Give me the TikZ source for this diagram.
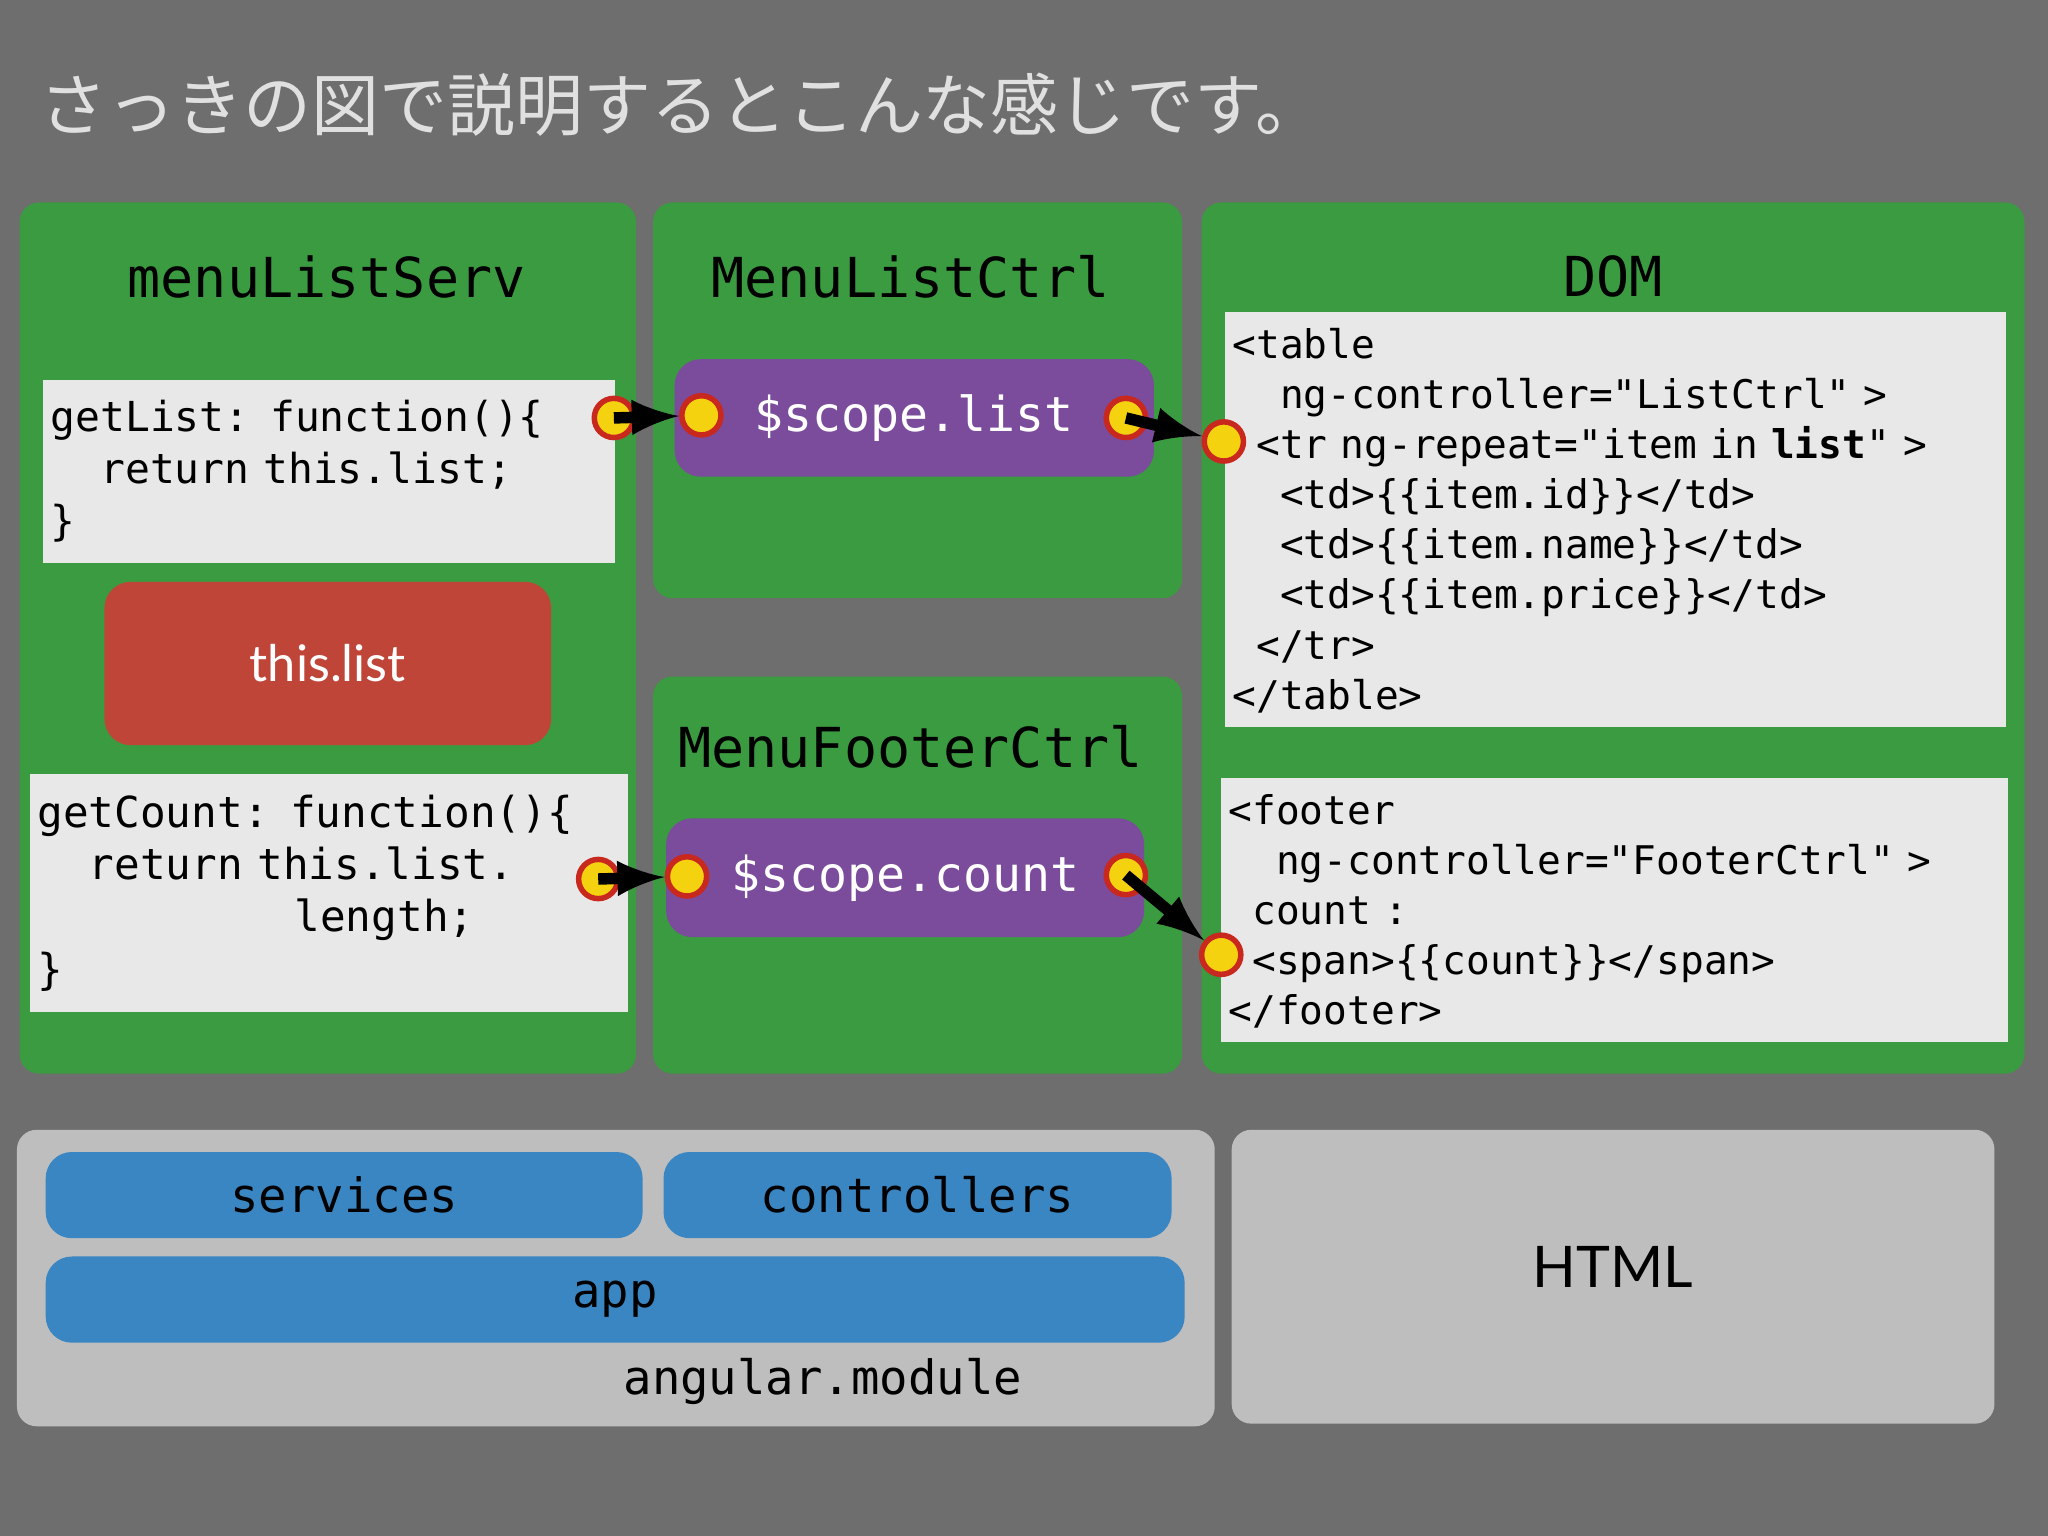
\documentclass[tikz,border=0pt]{standalone}
\usepackage{fontspec}
\setmonofont{DejaVu Sans Mono}[WordSpace={1,0,0}]
\setsansfont{Lato}
\newfontfamily\cjk{Noto Sans CJK JP}
\definecolor{bggray}{HTML}{6E6E6E}
\definecolor{panelgreen}{HTML}{3B9B40}
\definecolor{codebg}{HTML}{E8E8E8}
\definecolor{boxred}{HTML}{BF4538}
\definecolor{boxpurple}{HTML}{7B4B9C}
\definecolor{boxblue}{HTML}{3A86C2}
\definecolor{modgray}{HTML}{BEBEBE}
\definecolor{dotyellow}{HTML}{F5D210}
\definecolor{dotred}{HTML}{C8281E}
\tikzset{
  panel/.style={fill=panelgreen, rounded corners=0.15cm},
  code/.style={fill=codebg, font=\ttfamily\fontsize{8.6}{10.9}\selectfont, align=left, anchor=north west, inner xsep=0.06cm, inner ysep=0.05cm},
  title/.style={font=\ttfamily\fontsize{12}{14}\selectfont, text=black},
  pill/.style={rounded corners=0.2cm, font=\ttfamily\fontsize{10.5}{13}\selectfont, text=white},
  mod/.style={fill=boxblue, rounded corners=0.2cm, font=\ttfamily\fontsize{10.3}{12}\selectfont},
  dot/.style={circle, fill=dotyellow, draw=dotred, line width=1.2pt, minimum size=0.3cm, inner sep=0pt},
  link/.style={-latex, line width=2.5pt, black}
}
\begin{document}
\begin{tikzpicture}[x=1cm, y=-1cm]
  % background
  \fill[bggray] (0,0) rectangle (15.68,11.76);
  \node[anchor=west, text=white!88!black, font=\cjk\fontsize{14.8}{16}\selectfont] (head) at (0.18,0.8) {さっきの図で説明するとこんな感じです。};

  % panels
  \fill[panel] (0.15,1.55) rectangle (4.87,8.22);
  \fill[panel] (5.00,1.55) rectangle (9.05,4.58);
  \fill[panel] (5.00,5.18) rectangle (9.05,8.22);
  \fill[panel] (9.20,1.55) rectangle (15.50,8.22);

  \node[title] (serv) at (2.50,2.12) {menuListServ};
  \node[title] (lctrl) at (6.97,2.12) {MenuListCtrl};
  \node[title] (fctrl) at (6.97,5.72) {MenuFooterCtrl};
  \node[title] (dom) at (12.35,2.12) {DOM};

  % service code
  \node[code, text width=4.26cm, minimum height=1.40cm, font=\ttfamily\fontsize{9}{11.4}\selectfont] (getlist) at (0.32,2.90)
    {getList: function()\{\\\phantom{xx}return this.list;\\\}};
  \node[fill=boxred, rounded corners=0.2cm, minimum width=3.42cm, minimum height=1.25cm,
    text=white, font=\sffamily\fontsize{11}{13}\selectfont] (thislist) at (2.51,5.08) {this.list};
  \node[code, text width=4.46cm, minimum height=1.82cm, font=\ttfamily\fontsize{9.3}{11.4}\selectfont] (getcount) at (0.22,5.92)
    {getCount: function()\{\\\phantom{xx}return this.list.\\\phantom{xxxxxxxxxx}length;\\\}};

  % controllers
  \node[pill, fill=boxpurple, minimum width=3.67cm, minimum height=0.90cm] (slist) at (7.00,3.20) {\$scope.list};
  \node[pill, fill=boxpurple, minimum width=3.66cm, minimum height=0.91cm] (scount) at (6.93,6.72) {\$scope.count};

  % DOM code
  \node[code, text width=5.86cm, minimum height=3.18cm] (tbl) at (9.37,2.38)
    {\rule{0pt}{0.25cm}<table\\
     \phantom{xx}ng-controller="ListCtrl" >\\
     \phantom{x}<tr ng-repeat="item in \textbf{list}" >\\
     \phantom{xx}<td>\{\{item.id\}\}</td>\\
     \phantom{xx}<td>\{\{item.name\}\}</td>\\
     \phantom{xx}<td>\{\{item.price\}\}</td>\\
     \phantom{x}</tr>\\
     </table>};
  \node[code, text width=5.91cm, minimum height=2.02cm] (ftr) at (9.34,5.95)
    {\rule{0pt}{0.25cm}<footer\\
     \phantom{xx}ng-controller="FooterCtrl" >\\
     \phantom{x}count :\\
     \phantom{x}<span>\{\{count\}\}</span>\\
     </footer>};

  % connectors
  \node[dot] (d1) at (4.70,3.20) {};
  \node[dot] (d2) at (5.37,3.18) {};
  \node[dot] (d3) at (8.62,3.20) {};
  \node[dot] (d4) at (9.37,3.38) {};
  \node[dot] (d5) at (4.58,6.73) {};
  \node[dot] (d6) at (5.26,6.71) {};
  \node[dot] (d7) at (8.62,6.70) {};
  \node[dot] (d8) at (9.35,7.31) {};
  \draw[link] (d1.center) -- (d2);
  \draw[link] (d3.center) -- (d4);
  \draw[link] (d5.center) -- (d6);
  \draw[link] (d7.center) -- (d8);

  % modules
  \fill[modgray, rounded corners=0.15cm] (0.13,8.65) rectangle (9.30,10.92);
  \fill[modgray, rounded corners=0.15cm] (9.43,8.65) rectangle (15.27,10.90);
  \node[mod, minimum width=4.57cm, minimum height=0.66cm] (services) at (2.635,9.15) {services};
  \node[mod, minimum width=3.89cm, minimum height=0.66cm] (controllers) at (7.025,9.15) {controllers};
  \node[mod, minimum width=8.72cm, minimum height=0.66cm] (app) at (4.71,9.95) {app};
  \node[font=\ttfamily\fontsize{10.3}{12}\selectfont] (angmod) at (6.30,10.58) {angular.module};
  \node[font=\sffamily\fontsize{12.5}{14}\selectfont] (html) at (12.35,9.70) {HTML};
\end{tikzpicture}
\end{document}
